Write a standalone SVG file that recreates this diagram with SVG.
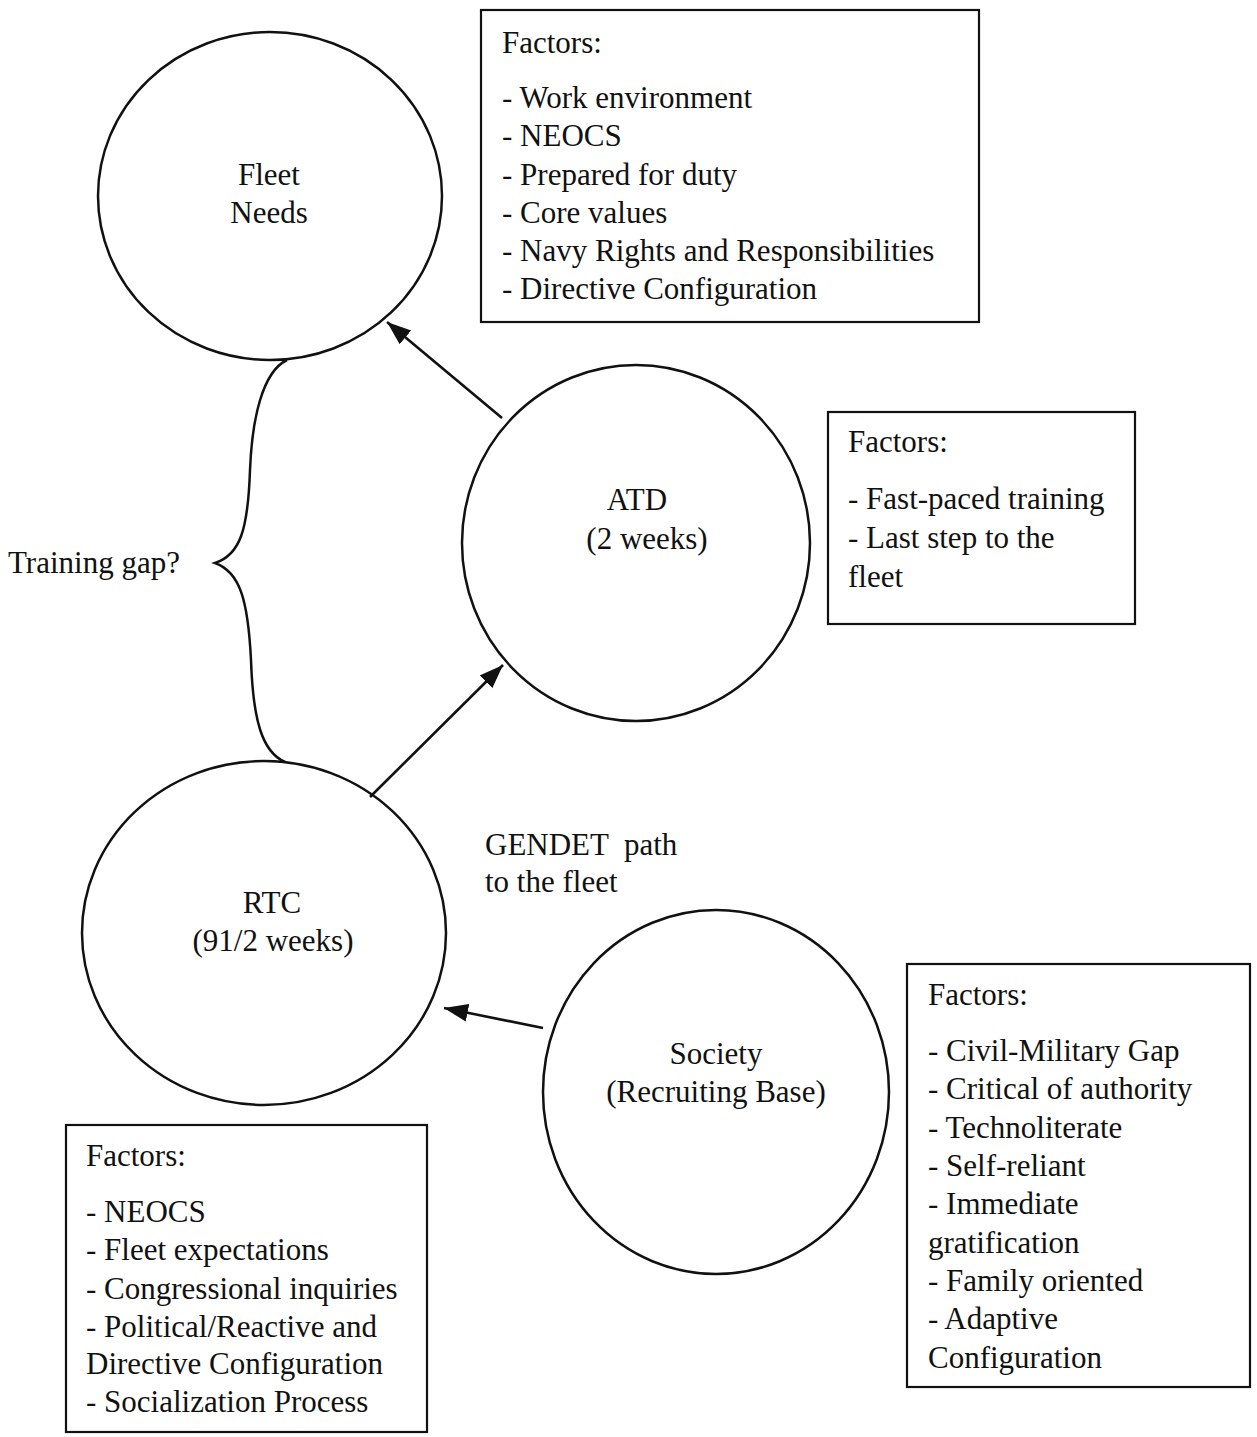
<svg xmlns="http://www.w3.org/2000/svg" width="1257" height="1437" viewBox="0 0 1257 1437">
<style>
text{font-family:"Liberation Serif","Times New Roman",serif;font-size:31px;fill:#111}
.c{text-anchor:middle}
.node{fill:none;stroke:#111;stroke-width:2.5}
.box{fill:none;stroke:#111;stroke-width:2.2}
.edge{fill:none;stroke:#111;stroke-width:2.6}
</style>
<defs>
<marker id="ah" markerUnits="userSpaceOnUse" markerWidth="26" markerHeight="20" refX="24" refY="10" orient="auto">
<path d="M0,1 L24,10 L0,19 Z" fill="#111"/>
</marker>
</defs>
<rect width="1257" height="1437" fill="#fff"/>
<g id="connectors">
<line class="edge" x1="502" y1="418" x2="387" y2="322" marker-end="url(#ah)"/>
<line class="edge" x1="370" y1="797" x2="503" y2="665" marker-end="url(#ah)"/>
<line class="edge" x1="543" y1="1028" x2="444" y2="1008" marker-end="url(#ah)"/>
<path class="node" d="M287,360 C262,372 252,420 250,470 C248,530 240,555 215,563 C240,572 248,600 251,660 C253,720 262,752 285,762"/>
</g>
<g id="fleet">
<ellipse class="node" cx="270" cy="196" rx="172" ry="164"/>
<text class="c" x="269" y="185">Fleet</text>
<text class="c" x="269" y="223">Needs</text>
</g>
<g id="atd">
<ellipse class="node" cx="636" cy="543" rx="174" ry="178"/>
<text class="c" x="637" y="510">ATD</text>
<text class="c" x="647" y="549">(2 weeks)</text>
</g>
<g id="rtc">
<ellipse class="node" cx="264" cy="933" rx="182" ry="172"/>
<text class="c" x="272" y="913">RTC</text>
<text class="c" x="273" y="951">(91/2 weeks)</text>
</g>
<g id="society">
<ellipse class="node" cx="716" cy="1092" rx="173" ry="182"/>
<text class="c" x="716" y="1064">Society</text>
<text class="c" x="716" y="1102">(Recruiting Base)</text>
</g>
<g id="training-gap">
<text x="8" y="573">Training gap?</text>
</g>
<g id="gendet">
<text x="485" y="855" xml:space="preserve">GENDET  path</text>
<text x="485" y="892">to the fleet</text>
</g>
<g id="fleet-factors">
<rect class="box" x="481" y="10" width="498" height="312"/>
<text x="502" y="53">Factors:</text>
<text x="502" y="108">- Work environment</text>
<text x="502" y="146">- NEOCS</text>
<text x="502" y="185">- Prepared for duty</text>
<text x="502" y="223">- Core values</text>
<text x="502" y="261">- Navy Rights and Responsibilities</text>
<text x="502" y="299">- Directive Configuration</text>
</g>
<g id="atd-factors">
<rect class="box" x="828" y="412" width="307" height="212"/>
<text x="848" y="452">Factors:</text>
<text x="848" y="509">- Fast-paced training</text>
<text x="848" y="548">- Last step to the</text>
<text x="848" y="587">fleet</text>
</g>
<g id="society-factors">
<rect class="box" x="907" y="964" width="343" height="423"/>
<text x="928" y="1005">Factors:</text>
<text x="928" y="1061">- Civil-Military Gap</text>
<text x="928" y="1099">- Critical of authority</text>
<text x="928" y="1138">- Technoliterate</text>
<text x="928" y="1176">- Self-reliant</text>
<text x="928" y="1214">- Immediate</text>
<text x="928" y="1253">gratification</text>
<text x="928" y="1291">- Family oriented</text>
<text x="928" y="1329">- Adaptive</text>
<text x="928" y="1368">Configuration</text>
</g>
<g id="rtc-factors">
<rect class="box" x="66" y="1125" width="361" height="307"/>
<text x="86" y="1166">Factors:</text>
<text x="86" y="1222">- NEOCS</text>
<text x="86" y="1260">- Fleet expectations</text>
<text x="86" y="1299">- Congressional inquiries</text>
<text x="86" y="1337">- Political/Reactive and</text>
<text x="86" y="1374">Directive Configuration</text>
<text x="86" y="1412">- Socialization Process</text>
</g>
</svg>
